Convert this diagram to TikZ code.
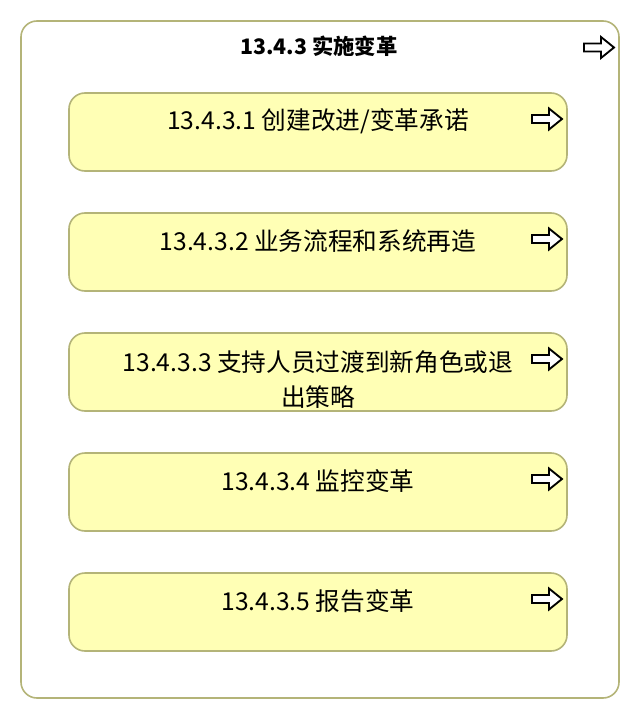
\documentclass[tikz,border=0pt]{standalone}
\usepackage{fontspec}
\setmainfont{Noto Sans CJK SC}
\usepackage{tikz}

\definecolor{boxline}{RGB}{180,180,120}
\definecolor{boxfill}{RGB}{255,255,181}

\tikzset{
  groupbox/.style={draw=boxline, line width=1.2pt, rounded corners=12pt, minimum width=448.5pt, minimum height=507.75pt, inner sep=0pt},
  stepbox/.style={draw=boxline, fill=boxfill, line width=1.2pt, rounded corners=12pt, minimum width=373.5pt, minimum height=58.5pt, inner sep=0pt},
  steptext/.style={font=\fontsize{18.5}{26.5}\selectfont, align=center, inner sep=0pt},
  openarrow/.pic={\draw[line width=1.4pt, fill=white] (-15,-4) -- (2,-4) -- (2,-10.5) -- (15,0) -- (2,10.5) -- (2,4) -- (-15,4) -- cycle;}
}

\begin{document}
\begin{tikzpicture}[x=0.75pt,y=0.75pt,yscale=-1,xscale=1]
\useasboundingbox (0,0) rectangle (640,720);

% Group
\node[groupbox] (grp) at (320,359.5) {};
\node[steptext, font=\fontsize{16}{24}\selectfont\bfseries] (grptext) at (319,46) {13.4.3 实施变革};
\pic at (599,47.5) {openarrow};

% Steps
\node[stepbox] (s1) at (318,132) {};
\node[stepbox] (s2) at (318,252) {};
\node[stepbox] (s3) at (318,372) {};
\node[stepbox] (s4) at (318,492) {};
\node[stepbox] (s5) at (318,612) {};

% Text Node
\node[steptext] (t1) at ([yshift=21.75pt]s1.north) {13.4.3.1 创建改进/变革承诺};
\node[steptext] (t2) at ([yshift=21.75pt]s2.north) {13.4.3.2 业务流程和系统再造};
\begin{scope}
\clip[rounded corners=12pt] (s3.south west) rectangle (s3.north east);
\node[steptext] (t3) at ([yshift=35.5pt]s3.north) {13.4.3.3 支持人员过渡到新角色或退\\出策略};
\end{scope}
\node[steptext] (t4) at ([yshift=21.75pt]s4.north) {13.4.3.4 监控变革};
\node[steptext] (t5) at ([yshift=21.75pt]s5.north) {13.4.3.5 报告变革};

% Arrows
\foreach \y in {119,239,359,479,599}
  \pic at (547,\y) {openarrow};

\end{tikzpicture}
\end{document}
